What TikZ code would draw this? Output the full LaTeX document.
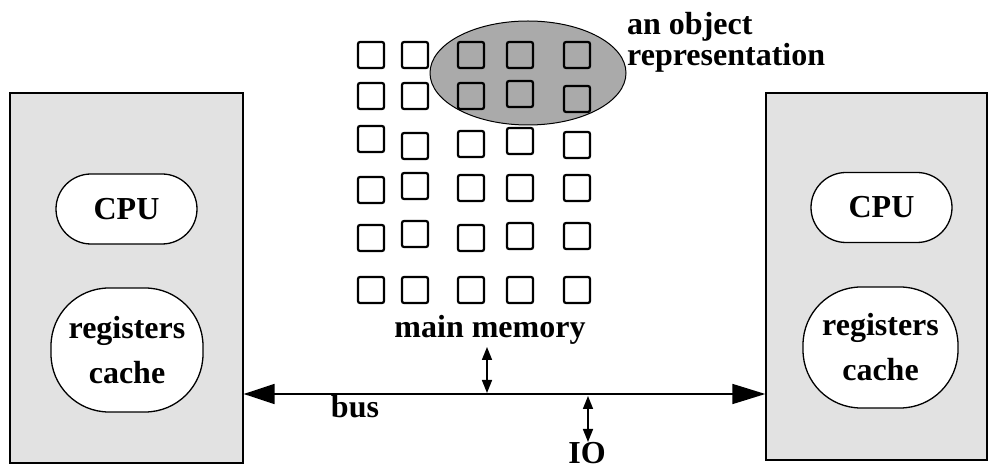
\documentclass[tikz,border=0pt]{standalone}
\usepackage{fontspec}
\setmainfont{Liberation Serif}
\usetikzlibrary{arrows.meta,shapes.misc,shapes.geometric}
\definecolor{boxgray}{RGB}{226,226,226}
\definecolor{objgray}{RGB}{170,170,170}
\begin{document}
\begin{tikzpicture}[x=1pt,y=-1pt,
  lbl/.style={font=\fontsize{32}{32}\selectfont\bfseries, inner sep=0pt},
  cpubox/.style={draw, line width=1.3pt, fill=white, rounded corners=35pt, minimum width=141pt, minimum height=70pt, inner sep=0pt},
  regbox/.style={draw, line width=1.3pt, fill=white, rounded corners=58pt, minimum width=152pt, minimum height=124pt, inner sep=0pt, align=center, font=\fontsize{32}{45}\selectfont\bfseries},
  hostbox/.style={draw, line width=1.3pt, fill=boxgray},
  memsq/.style={draw, line width=2.2pt, rounded corners=2pt, minimum size=26pt, inner sep=0pt},
  busarrow/.style={line width=1.6pt, {Triangle[length=31pt,width=20pt]}-{Triangle[length=33pt,width=20pt]}},
  dbl/.style={line width=1.6pt, {Triangle[length=13pt,width=10pt]}-{Triangle[length=13pt,width=10pt]}}
]
\useasboundingbox (0,0) rectangle (989,470);
% host boxes
\node[hostbox, minimum width=233pt, minimum height=370pt, inner sep=0pt] (lbox) at (126.5,278) {};
\node[hostbox, minimum width=221pt, minimum height=367pt, inner sep=0pt] (rbox) at (876.5,276.5) {};
\node[cpubox] (lcpu) at (126.5,209) {\fontsize{32}{32}\selectfont\bfseries CPU};
\node[regbox] (lreg) at (127,350) {registers\\cache};
\node[cpubox] (rcpu) at (881.5,207.5) {\fontsize{32}{32}\selectfont\bfseries CPU};
\node[regbox, minimum width=155pt, minimum height=121pt] (rreg) at (880.5,347.5) {registers\\cache};
% object ellipse
\node[draw, line width=1pt, fill=objgray, ellipse, minimum width=196pt, minimum height=104pt, inner sep=0pt] (obj) at (528,73) {};
% memory squares
\foreach \x/\y/\n in {
  371/55/a1, 415/55/a2, 471/55/a3, 520/55/a4, 577/55/a5,
  371/96/b1, 415/96/b2, 471/96/b3, 520/94/b4, 577/99/b5,
  371/139/c1, 415/146/c2, 471/144/c3, 520/141/c4, 577/145/c5,
  371/190/d1, 415/186/d2, 471/188/d3, 520/188/d4, 577/188/d5,
  371/238/e1, 415/234/e2, 471/238/e3, 520/236/e4, 577/236/e5,
  371/290/f1, 415/290/f2, 471/290/f3, 520/290/f4, 577/290/f5}
  \node[memsq] (sq\n) at (\x,\y) {};
% labels
\node[lbl, anchor=base west, align=left] (objlbl) at (627,35) {an object};
\node[lbl, anchor=base west] (objlbl2) at (627,66) {representation};
\node[lbl, anchor=base] (mm) at (490,338) {main memory};
\node[lbl, anchor=base] (buslbl) at (355,418) {bus};
\node[lbl, anchor=base] (io) at (587,464) {IO};
% bus
\coordinate (busL) at (lbox.east |- 0,394);
\coordinate (busR) at (rbox.west |- 0,394);
\draw[busarrow] (busL) -- (busR);
\coordinate (mmtop) at (487,347);
\coordinate (mmbot) at (487,393);
\draw[dbl] (mmtop) -- (mmbot);
\coordinate (iotop) at (588,396);
\coordinate (iobot) at (588,442);
\draw[dbl] (iotop) -- (iobot);
\end{tikzpicture}
\end{document}
